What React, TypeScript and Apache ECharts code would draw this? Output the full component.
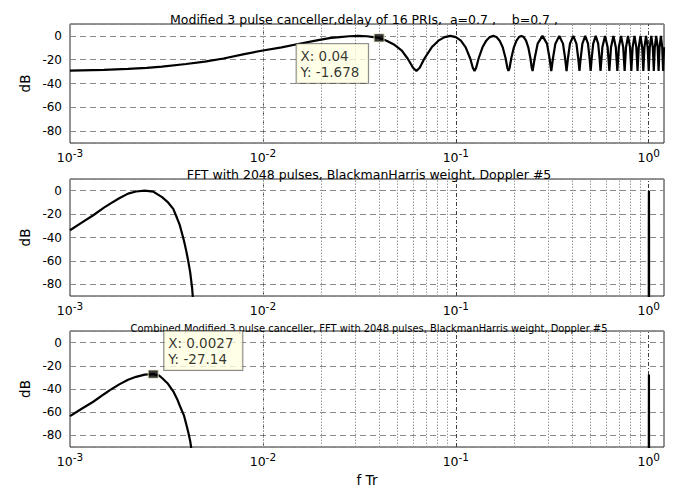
import React, { useEffect, useRef } from "react";
import * as echarts from "echarts";

// ---------- data ----------
const titles = [
  "Modified 3 pulse canceller,delay of 16 PRIs,\u00a0 a=0.7 ,\u00a0\u00a0\u00a0 b=0.7 ,",
  "FFT with 2048 pulses, BlackmanHarris weight, Doppler #5",
  "Combined Modified 3 pulse canceller, FFT with 2048 pulses, BlackmanHarris weight, Doppler #5",
];
const xRange = [0.001, 1.2];
const yRange = [-90, 10];
const majorGrid = [0.001, 0.01, 0.1, 1];
const minorGrid = [
  0.002, 0.003, 0.004, 0.005, 0.006, 0.007, 0.008, 0.009,
  0.02, 0.03, 0.04, 0.05, 0.06, 0.07, 0.08, 0.09,
  0.2, 0.3, 0.4, 0.5, 0.6, 0.7, 0.8, 0.9,
];

// Modified 3 pulse canceller response [f Tr, dB]
const cancellerResponse: [number, number][] = [
  [0.001, -29.2], [0.0015, -28.6], [0.002, -27.7], [0.0025, -26.8], [0.003, -25.8],
  [0.004, -23.6], [0.005, -21.6], [0.00625, -19.0], [0.008, -15.3], [0.01, -12.3],
  [0.0125, -9.6], [0.015, -7.0], [0.01875, -4.0], [0.0225, -1.7], [0.025, -1.0],
  [0.028, -0.3], [0.03125, 0], [0.0345, -0.3], [0.0375, -1.0], [0.04, -1.678],
  [0.04375, -4.0], [0.0475, -7.0], [0.05, -9.6], [0.0525, -12.3], [0.05625, -19.0],
  [0.0585, -23.6], [0.06, -26.8], [0.0625, -29.5],
  [0.065, -26.8], [0.06875, -19.0], [0.075, -9.6], [0.08125, -4.0], [0.0875, -1.0],
  [0.09375, 0], [0.1, -1.0], [0.10625, -4.0], [0.1125, -9.6], [0.11875, -19.0],
  [0.1225, -26.8], [0.125, -29.5],
  [0.1275, -26.8], [0.13125, -19.0], [0.1375, -9.6], [0.14375, -4.0], [0.15, -1.0],
  [0.15625, 0], [0.1625, -1.0], [0.16875, -4.0], [0.175, -9.6], [0.18125, -19.0],
  [0.185, -26.8], [0.1875, -29.5],
  [0.19, -26.8], [0.19375, -19.0], [0.2, -9.6], [0.20625, -4.0], [0.2125, -1.0],
  [0.21875, 0], [0.225, -1.0], [0.23125, -4.0], [0.2375, -9.6], [0.24375, -19.0],
  [0.2475, -26.8], [0.25, -29.5],
  [0.25625, -19.0], [0.265625, -6.5], [0.28125, 0], [0.296875, -6.5], [0.30625, -19.0], [0.3125, -29.5],
  [0.31875, -19.0], [0.328125, -6.5], [0.34375, 0], [0.359375, -6.5], [0.36875, -19.0], [0.375, -29.5],
  [0.38125, -19.0], [0.390625, -6.5], [0.40625, 0], [0.421875, -6.5], [0.43125, -19.0], [0.4375, -29.5],
  [0.44375, -19.0], [0.453125, -6.5], [0.46875, 0], [0.484375, -6.5], [0.49375, -19.0], [0.5, -29.5],
  [0.50625, -19.0], [0.515625, -6.5], [0.53125, 0], [0.546875, -6.5], [0.55625, -19.0], [0.5625, -29.5],
  [0.575, -9.6], [0.59375, 0], [0.6125, -9.6], [0.625, -29.5],
  [0.6375, -9.6], [0.65625, 0], [0.675, -9.6], [0.6875, -29.5],
  [0.7, -9.6], [0.71875, 0], [0.7375, -9.6], [0.75, -29.5],
  [0.7625, -9.6], [0.78125, 0], [0.8, -9.6], [0.8125, -29.5],
  [0.825, -9.6], [0.84375, 0], [0.8625, -9.6], [0.875, -29.5],
  [0.8875, -9.6], [0.90625, 0], [0.925, -9.6], [0.9375, -29.5],
  [0.95, -9.6], [0.96875, 0], [0.9875, -9.6], [1.0, -29.5],
  [1.0125, -9.6], [1.03125, 0], [1.05, -9.6], [1.0625, -29.5],
  [1.075, -9.6], [1.09375, 0], [1.1125, -9.6], [1.125, -29.5],
  [1.1375, -9.6], [1.15625, 0], [1.175, -9.6], [1.1875, -29.5],
  [1.2, -9.6],
];

// FFT (2048 pulses, Blackman-Harris, Doppler #5) main lobe and its alias near 1
const fftMainLobe: [number, number][] = [
  [0.001, -33.8], [0.00115, -27.3], [0.00132, -21], [0.0015, -14.5], [0.00161, -11.3],
  [0.0018, -6.5], [0.002, -2.5], [0.0022, -0.7], [0.00244, 0], [0.0027, -0.8],
  [0.003, -5.5], [0.0032, -9.5], [0.00343, -15.5], [0.0036, -24], [0.0037, -29],
  [0.0038, -36], [0.0039, -43], [0.004, -51], [0.0041, -60], [0.0042, -70],
  [0.0043, -84], [0.00435, -95], [0.0044, -120],
];
const fftAlias: [number, number][] = [
  [1.0005, -120], [1.001, -34], [1.0018, -6.5], [1.00244, 0], [1.003, -5.5], [1.0037, -29], [1.0044, -120],
];

// Combined response
const combinedMainLobe: [number, number][] = [
  [0.001, -63.4], [0.00115, -57], [0.00132, -51], [0.0015, -44.5], [0.00161, -41],
  [0.0018, -36], [0.002, -32], [0.0022, -29.5], [0.00244, -27.6], [0.0027, -27.14],
  [0.0029, -28.5], [0.003, -30.5], [0.0032, -35], [0.00343, -42], [0.0036, -49],
  [0.0037, -54], [0.0039, -63], [0.004, -70], [0.0041, -77], [0.0042, -85],
  [0.00425, -91], [0.0043, -120],
];
const combinedAlias: [number, number][] = [
  [1.0005, -120], [1.00244, -27.6], [1.0027, -27.14], [1.0044, -120],
];

const tipCanceller: [number, number] = [0.04, -1.678];
const tipCombined: [number, number] = [0.0027, -27.14];

// ---------- layout / style ----------
const FONT = "DejaVu Sans";
const grids = [
  { left: 70, top: 24, width: 594, height: 119 },
  { left: 70, top: 179, width: 594, height: 117 },
  { left: 70, top: 331, width: 594, height: 118 },
];
const titleLefts = [359, 364, 364];
const titleTops = [8, 163, 318];
const titleSizes = [12.5, 12.5, 9.9];

export default function App() {
  const ref = useRef<HTMLDivElement>(null);
  useEffect(() => {
    document.body.style.margin = "0";
    if (!ref.current) return;
    const chart = echarts.init(ref.current, undefined, { renderer: "svg" });

    const curveStyle = { color: "#000", width: 2.2 };
    const gridLineSeries = (i: number) => ({
      type: "line",
      xAxisIndex: i,
      yAxisIndex: i,
      data: [[0.001, -200]],
      symbol: "none",
      lineStyle: { width: 0 },
      silent: true,
      z: 1,
      markLine: {
        silent: true,
        symbol: ["none", "none"],
        label: { show: false },
        emphasis: { disabled: true },
        data: [
          ...majorGrid.map((v) => ({ xAxis: v, lineStyle: { color: "#404040", width: 1, type: [4, 2, 1, 2] } })),
          ...minorGrid.map((v) => ({ xAxis: v, lineStyle: { color: "#9a9a9a", width: 1, type: [1.5, 1.5] } })),
        ],
      },
    });
    const curve = (i: number, data: [number, number][]) => ({
      type: "line",
      xAxisIndex: i,
      yAxisIndex: i,
      data,
      symbol: "none",
      clip: true,
      lineStyle: curveStyle,
      z: 10,
      silent: true,
    });
    const tip = (i: number, p: [number, number], pos: number[]) => ({
      type: "scatter",
      xAxisIndex: i,
      yAxisIndex: i,
      data: [p],
      symbol: "rect",
      symbolSize: [10, 8],
      itemStyle: { color: "#000", borderColor: "#e6e2b8", borderWidth: 1 },
      z: 12,
      silent: true,
      label: {
        show: true,
        position: pos,
        formatter: `X: ${p[0]}\nY: ${p[1]}`,
        backgroundColor: "#ffffe1",
        borderColor: "#4a4a4a",
        borderWidth: 0.8,
        padding: [4, 9, 3, 4],
        lineHeight: 16,
        fontSize: 13.5,
        fontFamily: FONT,
        color: "#000",
        align: "left",
        verticalAlign: "top",
      },
    });

    const option = {
      animation: false,
      backgroundColor: "#fff",
      textStyle: { fontFamily: FONT },
      title: titles.map((t, i) => ({
        text: t,
        left: titleLefts[i],
        top: titleTops[i],
        textAlign: "center",
        textStyle: { fontSize: titleSizes[i], fontWeight: "normal", color: "#000", fontFamily: FONT },
      })),
      grid: grids.map((g) => ({ ...g, show: true, borderColor: "#262626", borderWidth: 1, backgroundColor: "#fff" })),
      xAxis: grids.map((_, i) => ({
        type: "log",
        logBase: 10,
        gridIndex: i,
        min: xRange[0],
        max: xRange[1],
        axisLine: { show: false },
        axisTick: { show: false },
        splitLine: { show: false },
        axisLabel: {
          margin: 4.5,
          showMaxLabel: true,
          formatter: (v: number) => {
            const e = Math.log10(v);
            const r = Math.round(e);
            if (Math.abs(e - r) > 1e-6) return "";
            return `{b|10}{s|${r}}`;
          },
          rich: {
            b: { fontSize: 12.5, color: "#000", fontFamily: FONT, lineHeight: 20 },
            s: { fontSize: 10.5, color: "#000", fontFamily: FONT, lineHeight: 10, verticalAlign: "top" },
          },
        },
        name: i === 2 ? "f Tr" : "",
        nameLocation: "middle",
        nameGap: 26,
        nameTextStyle: { fontSize: 13.5, color: "#000", fontFamily: FONT },
      })),
      yAxis: grids.map((_, i) => ({
        type: "value",
        gridIndex: i,
        min: yRange[0],
        max: yRange[1],
        splitNumber: 5,
        axisLine: { show: false },
        axisTick: { show: false },
        splitLine: { show: true, lineStyle: { color: "#8a8a8a", width: 1, type: [6, 4] } },
        axisLabel: { fontSize: 12, color: "#000", margin: 8, showMinLabel: false, showMaxLabel: false, fontFamily: FONT },
        name: "dB",
        nameLocation: "middle",
        nameRotate: 90,
        nameGap: 33,
        nameTextStyle: { fontSize: 13.5, color: "#000", fontFamily: FONT },
      })),
      series: [
        gridLineSeries(0),
        gridLineSeries(1),
        gridLineSeries(2),
        curve(0, cancellerResponse),
        curve(1, fftMainLobe),
        curve(1, fftAlias),
        curve(2, combinedMainLobe),
        curve(2, combinedAlias),
        tip(0, tipCanceller, [-77, 10.5]),
        tip(2, tipCombined, [16.5, -38.5]),
      ],
    };
    chart.setOption(option as any);
    return () => chart.dispose();
  }, []);
  return <div ref={ref} style={{ width: 678, height: 488 }} />;
}
